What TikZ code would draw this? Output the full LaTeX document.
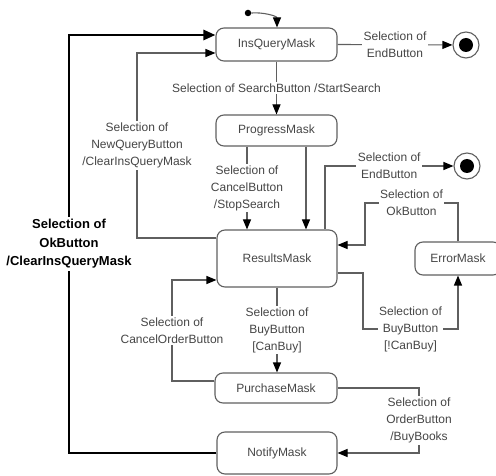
\documentclass[tikz,border=0pt]{standalone}
\usepackage{fontspec}
\setmainfont{Liberation Sans}
\usetikzlibrary{arrows.meta}
\definecolor{linegray}{RGB}{95,95,95}
\definecolor{textgray}{RGB}{70,70,70}
\begin{document}
\begin{tikzpicture}[x=1pt,y=-1pt,
  statebox/.style={draw=linegray, line width=1.1pt, rounded corners=8pt,
    inner sep=0pt, text=textgray, font=\fontsize{12}{14}\selectfont},
  lbl/.style={fill=white, align=center, inner sep=1.5pt, text=textgray,
    font=\fontsize{12}{17}\selectfont},
  boldlbl/.style={fill=white, align=center, inner sep=2pt, text=black,
    font=\bfseries\fontsize{13}{18.5}\selectfont},
  conn/.style={draw=linegray, line width=1.1pt,
    -{Triangle[length=10pt,width=8pt,color=black]}},
  thickconn/.style={draw=black, line width=2.6pt,
    -{Triangle[length=12pt,width=10pt,color=black]}},
  finalstate/.style={circle, draw=linegray, line width=1.1pt, minimum size=26pt,
    inner sep=0pt, path picture={\fill[black] (path picture bounding box.center) circle (7pt);}},
  initstate/.style={circle, fill=black, inner sep=0pt, minimum size=6.5pt}]
\useasboundingbox (0,0) rectangle (496,476);

% states
\node[statebox, minimum width=121pt, minimum height=33pt] (ins)  at (276.5,44.5) {InsQueryMask};
\node[statebox, minimum width=121pt, minimum height=31pt] (prog) at (276.5,130.5) {ProgressMask};
\node[statebox, minimum width=120pt, minimum height=57pt] (res)  at (277,258.5) {ResultsMask};
\node[statebox, minimum width=86pt,  minimum height=33pt] (err)  at (458,258.5) {ErrorMask};
\node[statebox, minimum width=122pt, minimum height=30pt] (pur)  at (276,388) {PurchaseMask};
\node[statebox, minimum width=120pt, minimum height=42pt] (notf) at (277,453) {NotifyMask};

% pseudo states
\node[initstate] (init) at (248,13) {};
\node[finalstate] (fin1) at (466,45) {};
\node[finalstate] (fin2) at (467,166) {};

% bend points
\coordinate (bNew)    at (137,53);
\coordinate (bOk)     at (69,35);
\coordinate (bOkBtn)  at (365,203);
\coordinate (bBuy)    at (363,329);
\coordinate (bCancel) at (172,280);
\coordinate (bOrder)  at (419,453);

% transitions
\draw[conn] (init.east) to[out=5,in=90] ([xshift=0.5pt]ins.north);
\draw[conn] (ins.east) -- node[lbl] {Selection of\\EndButton} (fin1);
\draw[conn] (ins.south) -- node[lbl] {Selection of SearchButton /StartSearch} (prog.north);
\draw[conn] ([xshift=-29.5pt]prog.south) -- node[lbl] {Selection of\\CancelButton\\/StopSearch} ([xshift=-30pt]res.north);
\draw[conn] ([xshift=29.5pt]prog.south) -- ([xshift=29pt]res.north);
\draw[conn] ([yshift=20.5pt]res.west) -| node[lbl, pos=0.75] {Selection of\\NewQueryButton\\/ClearInsQueryMask} (bNew) -- ([yshift=-8.5pt]ins.west);
\draw[thickconn] (notf.west) -| node[boldlbl, pos=0.75] {Selection of\\OkButton\\/ClearInsQueryMask} (bOk) -- ([yshift=9.5pt]ins.west);
\draw[conn] ([xshift=48pt]res.north) |- node[lbl, pos=0.75] {Selection of\\EndButton} (fin2);
\draw[conn] (err.north) |- node[lbl, pos=0.75] {Selection of\\OkButton} (bOkBtn) |- ([yshift=13.5pt]res.east);
\draw[conn] ([yshift=-14.5pt]res.east) -| (bBuy) -| node[lbl, pos=0.25] {Selection of\\BuyButton\\{}[!CanBuy]} (err.south);
\draw[conn] (res.south) -- node[lbl] {Selection of\\BuyButton\\{}[CanBuy]} (res.south |- pur.north);
\draw[conn] ([yshift=7pt]pur.west) -| node[lbl, pos=0.75] {Selection of\\CancelOrderButton} (bCancel) -- ([yshift=-21.5pt]res.west);
\draw[conn] (pur.east) -| node[lbl, pos=0.75] {Selection of\\OrderButton\\/BuyBooks} (bOrder) -- (notf.east);
\end{tikzpicture}
\end{document}
